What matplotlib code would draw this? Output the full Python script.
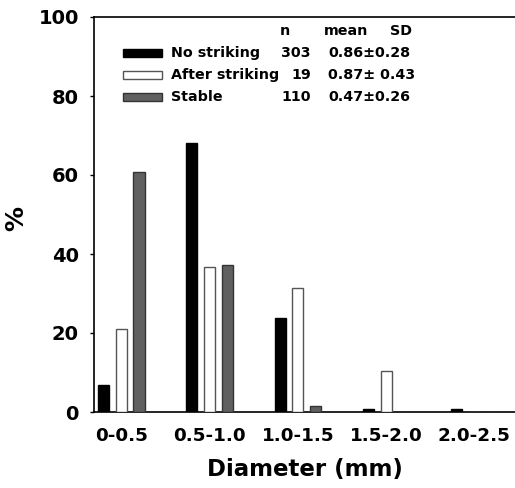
import matplotlib
matplotlib.use("Agg")
import matplotlib.pyplot as plt
from matplotlib.patches import Rectangle
import numpy as np

categories = ["0-0.5", "0.5-1.0", "1.0-1.5", "1.5-2.0", "2.0-2.5"]
no_striking = [6.8, 68.0, 23.7, 0.7, 0.7]
after_striking = [20.9, 36.8, 31.3, 10.4, 0.0]
stable = [60.8, 37.2, 1.5, 0.0, 0.0]
series_names = ["No striking", "After striking", "Stable"]
series_n = ["303", "19", "110"]
series_stats = ["0.86\u00b10.28", "0.87\u00b1 0.43", "0.47\u00b10.26"]
yticks = [0, 20, 40, 60, 80, 100]

plt.rcParams['font.family'] = ['DejaVu Sans']
plt.rcParams['font.weight'] = 'bold'

fig = plt.figure(figsize=(5.15, 4.88), dpi=100)
ax = fig.add_axes([94/515, 76/488, 421/515, 395/488])

x = np.arange(len(categories))
pitch = 0.2
width = 0.125
fills = ["black", "white", "#606060"]
edges = ["black", "#555555", "#333333"]
data = [no_striking, after_striking, stable]
for k, vals in enumerate(data):
    ax.bar(x + (k - 1) * pitch, vals, width=width, color=fills[k],
           edgecolor=edges[k], linewidth=1.0, zorder=3)

ax.set_xlim(-0.31, 4.46)
ax.set_ylim(0, 100)
ax.set_yticks(yticks)
ax.set_xticks(x)
ax.set_xticklabels(categories, fontsize=13.2, fontweight='bold')
ax.set_yticklabels([str(t) for t in yticks], fontsize=14, fontweight='bold')
ax.tick_params(axis='y', direction='out', length=3, width=1, pad=8)
ax.tick_params(axis='x', length=0, pad=11)
ax.spines['right'].set_visible(False)
for s in ['left', 'bottom', 'top']:
    ax.spines[s].set_linewidth(1.2)
ax.set_xlabel("Diameter (mm)", fontsize=16.5, fontweight='bold', labelpad=9)
ax.set_ylabel("%", fontsize=18, fontweight='bold')
ax.yaxis.set_label_coords(-0.157, 0.491)

# legend / table
fs = 10.3
ax.text(0.454, 0.965, "n", transform=ax.transAxes, ha='center', va='center', fontsize=fs, fontweight='bold')
ax.text(0.598, 0.965, "mean", transform=ax.transAxes, ha='center', va='center', fontsize=fs, fontweight='bold')
ax.text(0.730, 0.965, "SD", transform=ax.transAxes, ha='center', va='center', fontsize=fs, fontweight='bold')
rows_y = [0.9096, 0.853, 0.797]
hh = 8 / 395
for k in range(3):
    yy = rows_y[k]
    ax.add_patch(Rectangle((0.069, yy - hh / 2), 0.0925, hh, transform=ax.transAxes,
                           facecolor=fills[k], edgecolor=edges[k], linewidth=1.0, clip_on=False))
    ax.text(0.182, yy, series_names[k], transform=ax.transAxes, ha='left', va='center',
            fontsize=fs, fontweight='bold')
    ax.text(0.515, yy, series_n[k], transform=ax.transAxes, ha='right', va='center',
            fontsize=fs, fontweight='bold')
    ax.text(0.556, yy, series_stats[k], transform=ax.transAxes, ha='left', va='center',
            fontsize=fs, fontweight='bold')

fig.savefig("out.png", dpi=100)
